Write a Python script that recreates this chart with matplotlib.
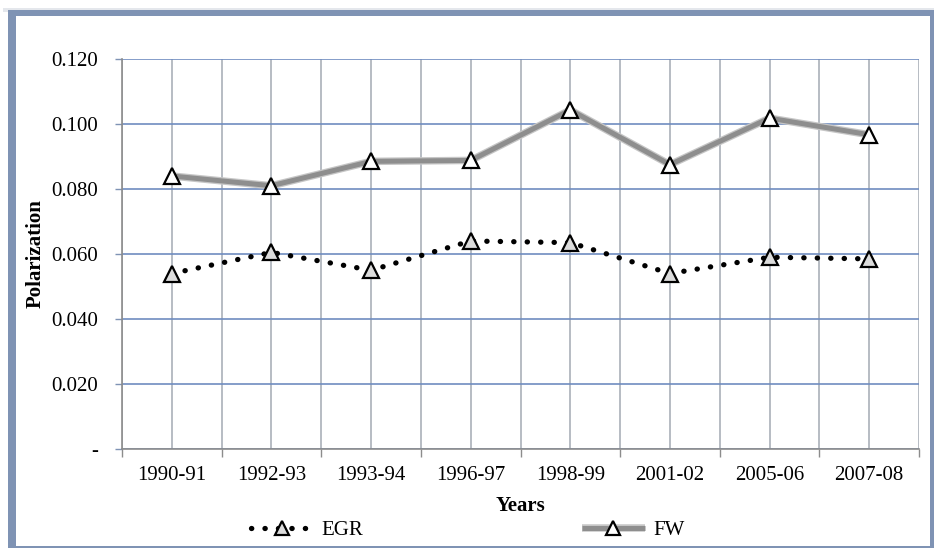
import matplotlib.pyplot as plt
import matplotlib.patheffects as pe
from matplotlib.patches import Rectangle
import numpy as np

years = ['1990-91', '1992-93', '1993-94', '1996-97', '1998-99', '2001-02', '2005-06', '2007-08']
egr = [0.054, 0.0605, 0.055, 0.064, 0.0635, 0.054, 0.059, 0.0585]
fw = [0.084, 0.081, 0.0885, 0.0888, 0.1043, 0.0875, 0.1018, 0.0967]
yticks = [0.0, 0.02, 0.04, 0.06, 0.08, 0.10, 0.12]
ytick_labels = ['-', '0.020', '0.040', '0.060', '0.080', '0.100', '0.120']

plt.rcParams['font.family'] = ['Liberation Serif', 'DejaVu Serif']

W, H = 935, 550
fig = plt.figure(figsize=(9.35, 5.5), dpi=100)

# window-like frame around the chart
fig.patches.append(Rectangle((3 / W, 1 - 12 / H), 931 / W, 4 / H, transform=fig.transFigure,
                             facecolor='#e4e7ec', edgecolor='none', zorder=-3))
fig.patches.append(Rectangle((8 / W, 2 / H), 926 / W, 1 - 12 / H, transform=fig.transFigure,
                             facecolor='#7f93b4', edgecolor='none', zorder=-2))
fig.patches.append(Rectangle((16 / W, 4 / H), 914 / W, 1 - 20 / H, transform=fig.transFigure,
                             facecolor='white', edgecolor='none', zorder=-1))

ax = fig.add_axes([122 / W, 1 - 449 / H, (919 - 122) / W, (449 - 59) / H])
ax.set_zorder(2)
ax.patch.set_alpha(0)

x = np.arange(len(years))

# FW: thick grey line with a soft edge, open triangles on top
fw_line, = ax.plot(x, fw, color='#8e8e8e', lw=3.6, zorder=3, solid_capstyle='butt',
                   path_effects=[pe.Stroke(linewidth=5.4, foreground='#c6c6c6'), pe.Normal()])
fw_mark, = ax.plot(x, fw, ls='none', marker='^', markersize=12, markerfacecolor='white',
                   markeredgecolor='black', markeredgewidth=1.6, zorder=5)

# EGR: round-dotted black line
egr_line, = ax.plot(x, egr, color='black', lw=3.8, linestyle=(0, (0.05, 2.5)),
                    dash_capstyle='round', zorder=4)
egr_mark, = ax.plot(x, egr, ls='none', marker='^', markersize=12, markerfacecolor='#dcdcdc',
                    markeredgecolor='black', markeredgewidth=1.6, zorder=5)

ax.set_xlim(-0.5, len(years) - 0.5)
ax.set_ylim(0, 0.12)

ax.set_xticks(x)
ax.set_xticklabels(years, fontsize=15)
ax.set_xticks(np.arange(-0.5, len(years)), minor=True)
ax.tick_params(axis='x', which='major', length=0, pad=12)
ax.tick_params(axis='x', which='minor', length=6, width=1, color='#8c8c8c', direction='out')

ax.set_yticks(yticks)
ax.set_yticklabels(ytick_labels, fontsize=15)
ax.tick_params(axis='y', length=5, width=1, color='#7f93b4', direction='out', pad=12)

ax.grid(axis='y', color='#6f8cc0', lw=1.2, zorder=1)
ax.grid(axis='x', which='both', color='#a3a9b3', lw=1.1, zorder=1)

for side in ['top', 'right']:
    ax.spines[side].set_visible(False)
ax.spines['left'].set_color('#8c8c8c')
ax.spines['bottom'].set_color('#8c8c8c')
ax.spines['left'].set_linewidth(1.2)
ax.spines['bottom'].set_linewidth(1.2)

ax.set_xlabel('Years', fontsize=15, fontweight='bold', labelpad=8)
ax.set_ylabel('Polarization', fontsize=15, fontweight='bold', labelpad=4)

fig.legend([(egr_line, egr_mark), (fw_line, fw_mark)], ['EGR', 'FW'], loc='center',
           bbox_to_anchor=(0.5, 1 - 530 / H), ncol=2, frameon=False, fontsize=15,
           handlelength=3.0, columnspacing=10.5, handletextpad=0.4, markerscale=0.8)

fig.savefig('out.png', dpi=100)
